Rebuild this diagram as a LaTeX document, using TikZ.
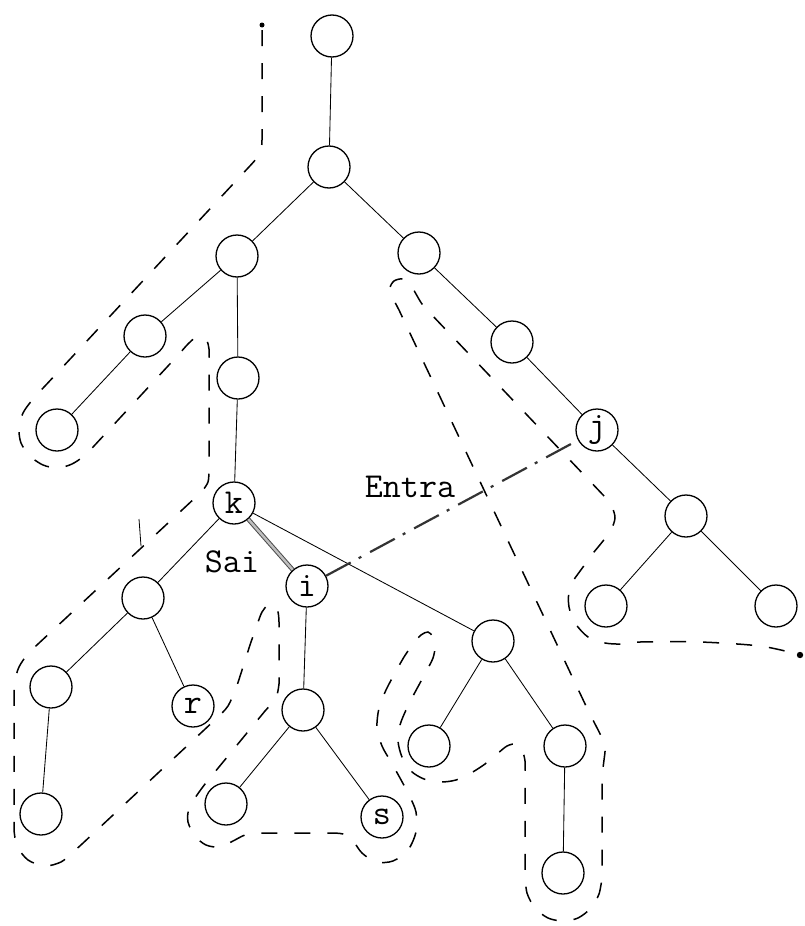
\documentclass[tikz,border=0pt]{standalone}
\usepackage{fontspec}
\usetikzlibrary{arrows.meta}
\begin{document}
\begin{tikzpicture}[x=1pt,y=-1pt,
  tn/.style={circle, draw, line width=1.3pt, minimum size=42pt, inner sep=0pt,
    font=\fontsize{35}{35}\selectfont\ttfamily},
  edge/.style={line width=0.85pt},
  contour/.style={line width=1.5pt, dash pattern=on 16pt off 17pt},
  sai/.style={line width=1pt, draw=black!70, double=gray!50, double distance=2.4pt},
  entra/.style={line width=2.2pt, draw=black!80, dash pattern=on 28pt off 9pt on 3pt off 10pt},
  lbl/.style={font=\fontsize{35}{35}\selectfont\ttfamily, inner sep=0pt},
]
\useasboundingbox (0,0) rectangle (805,926);

% nodes
\node[tn] (root) at (332,36) {};
\node[tn] (a) at (329,167) {};
\node[tn] (b) at (237,256) {};
\node[tn] (c) at (419,253) {};
\node[tn] (d) at (145,336) {};
\node[tn] (e) at (57,430) {};
\node[tn] (f) at (238,378) {};
\node[tn] (k) at (234,503) {k};
\node[tn] (g) at (512,342) {};
\node[tn] (j) at (597,430) {j};
\node[tn] (h) at (686,516) {};
\node[tn] (hl) at (606,606) {};
\node[tn] (hr) at (776,606) {};
\node[tn] (kl) at (143,598) {};
\node[tn] (i) at (307,586) {i};
\node[tn] (kr) at (493,641) {};
\node[tn] (kll) at (51,687) {};
\node[tn] (r) at (193,706) {r};
\node[tn] (klll) at (41,814) {};
\node[tn] (ic) at (303,710) {};
\node[tn] (icl) at (226,804) {};
\node[tn] (s) at (382,817) {s};
\node[tn] (krl) at (429,746) {};
\node[tn] (krr) at (565,746) {};
\node[tn] (krrc) at (563,873) {};

% tree edges
\draw[edge] (root)--(a) (a)--(b) (a)--(c) (b)--(d) (d)--(e) (b)--(f) (f)--(k)
  (c)--(g) (g)--(j) (j)--(h) (h)--(hl) (h)--(hr)
  (k)--(kl) (k)--(kr) (kl)--(kll) (kl)--(r) (kll)--(klll)
  (i)--(ic) (ic)--(icl) (ic)--(s) (kr)--(krl) (kr)--(krr) (krr)--(krrc);

% leaving and entering edges
\draw[sai] (k)--(i);
\draw[entra] (i)--(j);
\node[lbl] (entra) at (410,487) {Entra};
\node[lbl] (sai) at (232,562) {Sai};

% contour
\coordinate (cs) at (262,25);
\coordinate (ce) at (800,655);
\fill (cs) circle[radius=2.5pt];
\fill (ce) circle[radius=3.2pt];
\draw[contour] (262,30) -- (262,140)
 -- plot[smooth,tension=0.5] coordinates {(262,140) (261,150) (256,159) (248,168)}
 -- (45,386)
 -- plot[smooth,tension=0.5] coordinates {(45,386) (33,399) (23,413) (19,428) (21,443) (30,456) (43,465) (58,468) (72,464) (84,456) (94,446)}
 -- (180,353)
 -- plot[smooth,tension=0.5] coordinates {(180,353) (188,344) (195,338) (202,337) (207,341) (209,349) (209,358)}
 -- (209,472)
 -- plot[smooth,tension=0.5] coordinates {(209,472) (208,482) (203,490) (196,497)}
 -- (38,644)
 -- plot[smooth,tension=0.5] coordinates {(38,644) (27,655) (19,667) (15,680) (14,692)}
 -- (14,830)
 -- plot[smooth,tension=0.5] coordinates {(14,830) (17,846) (28,860) (45,866) (61,862) (72,853) (82,844)}
 -- (218,717)
 -- plot[smooth,tension=0.5] coordinates {(218,717) (228,706) (236,688) (243,667) (250,645) (257,625) (262,612) (268,605) (274,605) (278,612) (279,622) (279,632)}
 -- (279,684)
 -- plot[smooth,tension=0.5] coordinates {(279,684) (277,695) (272,703) (265,711)}
 -- (205,784)
 -- plot[smooth,tension=0.5] coordinates {(205,784) (197,795) (189,808) (188,822) (195,836) (206,845) (220,847) (233,841) (245,835) (258,833)}
 -- (330,833)
 -- plot[smooth,tension=0.5] coordinates {(330,833) (343,834) (353,841) (362,853) (376,862) (393,861) (408,850) (416,832) (416,812) (409,795) (400,778) (391,762) (382,746) (377,728) (379,708) (386,690) (395,673) (404,657) (413,644) (421,635) (428,632) (433,637) (435,647) (433,658) (427,670) (420,683) (413,696) (406,710) (400,725) (398,741) (402,757) (411,771) (424,779) (440,782) (456,780) (471,773) (485,764) (497,754) (507,746) (516,744) (522,750) (525,761) (525,776)}
 -- (525,875)
 -- plot[smooth,tension=0.5] coordinates {(525,875) (527,893) (535,908) (548,918) (563,921) (578,918) (591,908) (599,894) (602,878)}
 -- (602,775)
 -- plot[smooth,tension=0.5] coordinates {(602,775) (604,760) (605,748) (601,736) (594,722) (586,706)}
 -- (399,310)
 -- plot[smooth,tension=0.5] coordinates {(399,310) (393,298) (390,288) (394,281) (402,279) (410,284) (416,294) (422,304) (430,313)}
 -- (605,497)
 -- plot[smooth,tension=0.5] coordinates {(605,497) (612,507) (615,518) (611,530) (603,541) (594,552)}
 -- (575,578)
 -- plot[smooth,tension=0.5] coordinates {(575,578) (569,592) (569,607) (575,623) (588,637) (605,643) (622,644) (640,642) (700,642) (760,646) (797,654)};

% small tick mark
\draw[line width=0.8pt] (139,519) -- (141,546);
\end{tikzpicture}
\end{document}
